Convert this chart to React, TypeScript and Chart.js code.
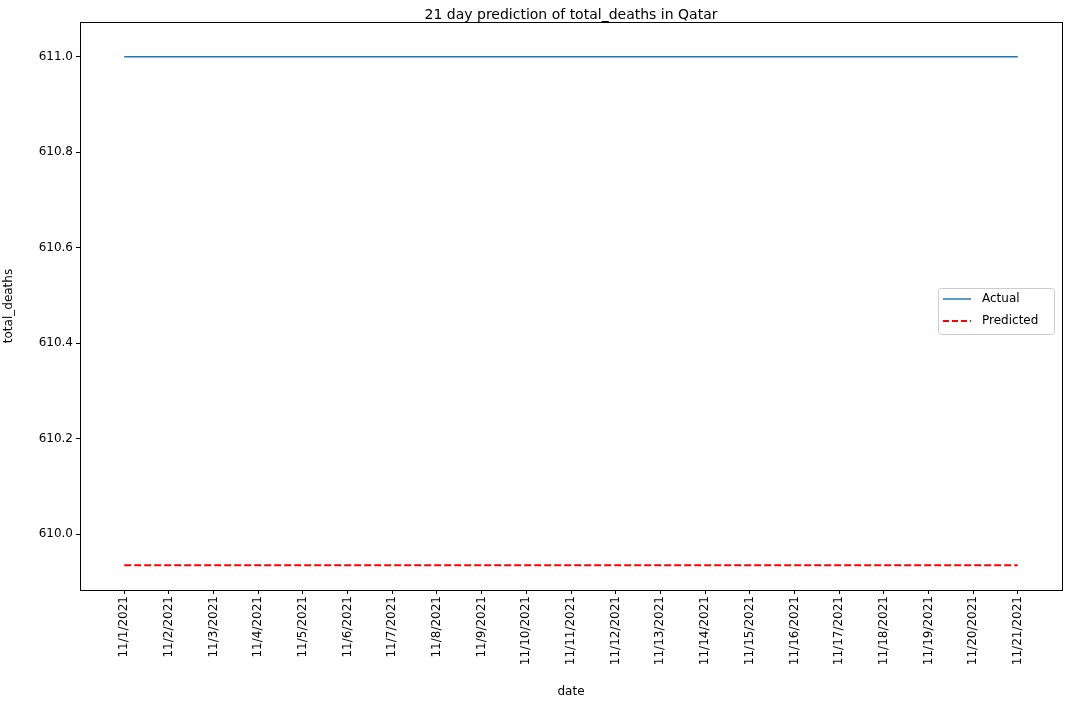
import React, { useEffect, useRef } from 'react';
import { Chart, registerables } from 'chart.js';

Chart.register(...registerables);

const dates = Array.from({ length: 21 }, (_, i) => `11/${i + 1}/2021`);
const actual = [611, 611, 611, 611, 611, 611, 611, 611, 611, 611, 611, 611, 611, 611, 611, 611, 611, 611, 611, 611, 611];
const predicted = [609.935, 609.935, 609.935, 609.935, 609.935, 609.935, 609.935, 609.935, 609.935, 609.935, 609.935, 609.935, 609.935, 609.935, 609.935, 609.935, 609.935, 609.935, 609.935, 609.935, 609.935];
const yTicks = [610.0, 610.2, 610.4, 610.6, 610.8, 611.0];

const font = 'DejaVu Sans';

const overlay = {
  id: 'overlay',
  afterDraw(chart: any) {
    const { ctx, chartArea } = chart;
    ctx.save();
    ctx.strokeStyle = '#000';
    ctx.lineWidth = 1;
    ctx.strokeRect(chartArea.left + 0.5, chartArea.top + 0.5, chartArea.right - chartArea.left, chartArea.bottom - chartArea.top);
    ctx.fillStyle = '#000';
    ctx.font = `14px "${font}"`;
    ctx.textAlign = 'center';
    ctx.textBaseline = 'middle';
    ctx.fillText('21 day prediction of total_deaths in Qatar', (chartArea.left + chartArea.right) / 2, 15);
    // legend
    const x = 938, y = 288, w = 116, h = 46;
    ctx.strokeStyle = '#ccc';
    ctx.fillStyle = 'rgba(255,255,255,0.8)';
    ctx.beginPath();
    ctx.roundRect(x + 0.5, y + 0.5, w, h, 3);
    ctx.fill();
    ctx.stroke();
    ctx.font = `12px "${font}"`;
    ctx.textAlign = 'left';
    ctx.textBaseline = 'middle';
    ctx.lineWidth = 1.5;
    ctx.strokeStyle = '#1f77b4';
    ctx.beginPath(); ctx.moveTo(x + 5, y + 11); ctx.lineTo(x + 33, y + 11); ctx.stroke();
    ctx.fillStyle = '#000';
    ctx.fillText('Actual', x + 44, y + 11);
    ctx.strokeStyle = 'red';
    ctx.lineWidth = 2;
    ctx.setLineDash([6, 3]);
    ctx.beginPath(); ctx.moveTo(x + 5, y + 33); ctx.lineTo(x + 33, y + 33); ctx.stroke();
    ctx.setLineDash([]);
    ctx.fillText('Predicted', x + 44, y + 33);
    ctx.restore();
  },
};

const tickGrid = { drawOnChartArea: false, drawTicks: true, tickLength: 4, color: '#000' };

export default function App() {
  const ref = useRef<HTMLCanvasElement>(null);
  useEffect(() => {
    document.body.style.margin = '0';
    const chart = new Chart(ref.current!, {
      type: 'line',
      data: {
        datasets: [
          { label: 'Actual', data: actual.map((v, i) => ({ x: i, y: v })), borderColor: '#1f77b4', borderWidth: 1.5, pointRadius: 0 },
          { label: 'Predicted', data: predicted.map((v, i) => ({ x: i, y: v })), borderColor: 'red', borderWidth: 2, borderDash: [7, 3], pointRadius: 0 },
        ],
      },
      options: {
        animation: false,
        responsive: false,
        layout: { padding: { top: 22, right: 8, left: 0, bottom: 10 } },
        plugins: { legend: { display: false }, tooltip: { enabled: false } },
        scales: {
          x: {
            type: 'linear',
            min: -0.99,
            max: 20.99,
            afterBuildTicks: (s: any) => { s.ticks = dates.map((_, i) => ({ value: i })); },
            afterFit: (s: any) => { s.height = 109; },
            grid: tickGrid,
            border: { color: '#000' },
            ticks: {
              callback: (v: any) => dates[v as number],
              maxRotation: 90, minRotation: 90, autoSkip: false, padding: 2,
              color: '#000', font: { family: font, size: 12 },
            },
            title: { display: true, text: 'date', color: '#000', font: { family: font, size: 12 }, padding: { top: 0, bottom: 0 } },
          },
          y: {
            min: 609.883,
            max: 611.073,
            afterBuildTicks: (s: any) => { s.ticks = yTicks.map((v) => ({ value: v })); },
            afterFit: (s: any) => { s.width = 80; },
            grid: tickGrid,
            border: { color: '#000' },
            ticks: { callback: (v: any) => Number(v).toFixed(1), color: '#000', padding: 3, font: { family: font, size: 12 } },
            title: { display: true, text: 'total_deaths', color: '#000', font: { family: font, size: 12 }, padding: { top: 2, bottom: 0 } },
          },
        },
      },
      plugins: [overlay],
    });
    return () => chart.destroy();
  }, []);
  return <canvas ref={ref} width={1070} height={709} />;
}
